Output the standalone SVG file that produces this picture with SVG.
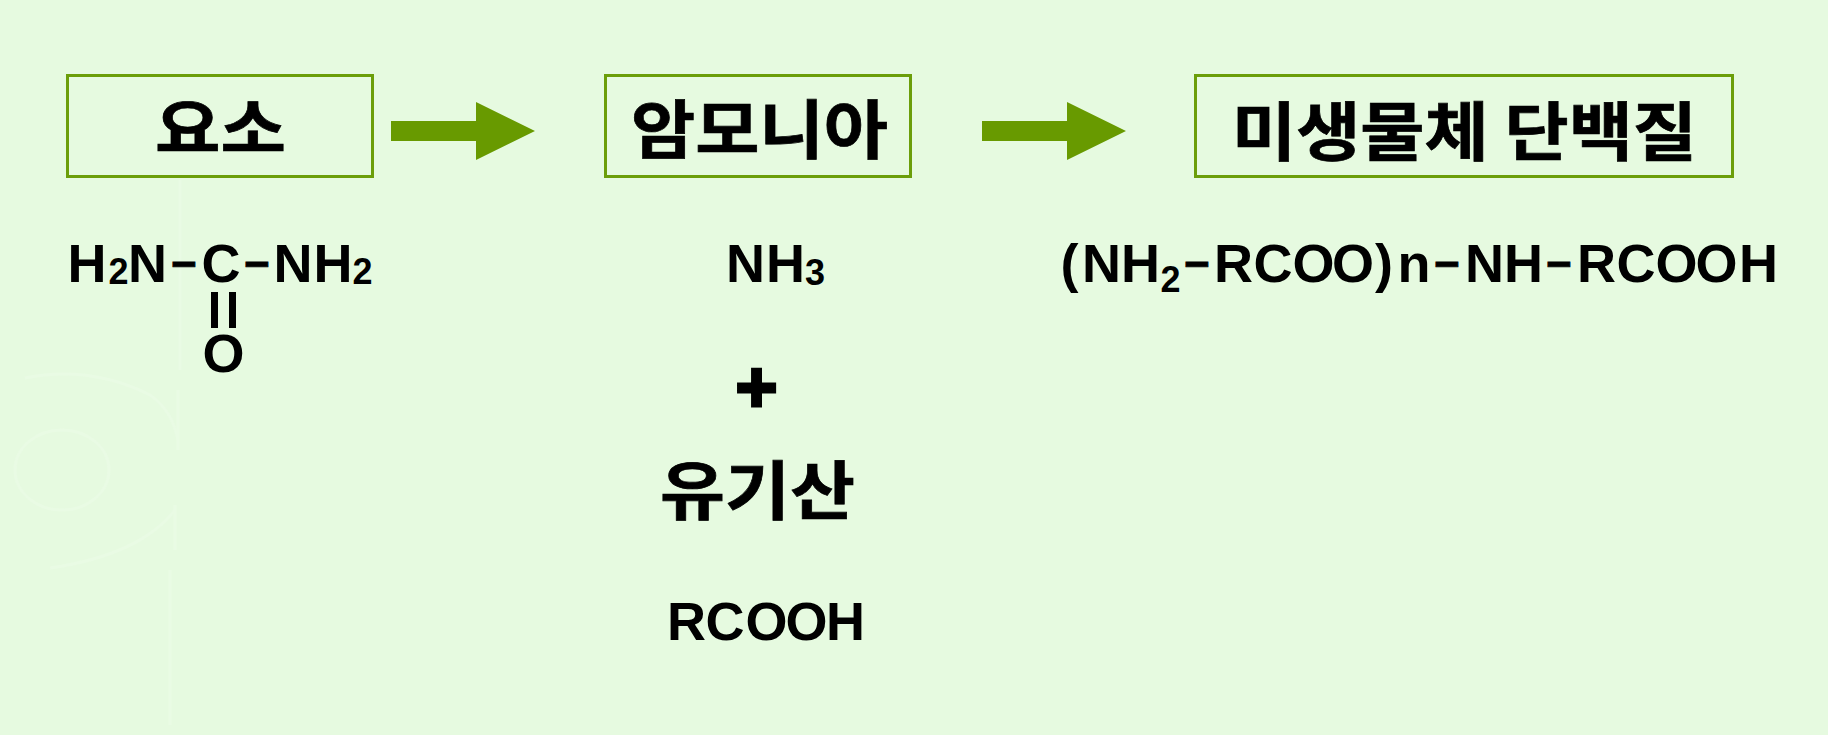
<svg xmlns="http://www.w3.org/2000/svg" width="1828" height="735" viewBox="0 0 1828 735">
<style>
.box{fill:none;stroke:#6b9e0a;stroke-width:3}
.arrow{fill:#689a00}
.ko{font-family:"Noto Sans CJK KR","Noto Sans",sans-serif;font-weight:700;font-size:64px;fill:#000;stroke:#000;stroke-width:.7}
.f{font-family:"Liberation Sans",Arial,sans-serif;font-weight:700;font-size:54px;fill:#000}
.s{font-size:36px}
.d{font-size:44px;stroke:#000;stroke-width:.8}
.wm{fill:none;stroke:#e9fbe4;stroke-width:3}
</style>
<rect width="1828" height="735" fill="#e6fae0"/>
<g id="watermark">
<ellipse cx="62" cy="470" rx="47" ry="40" class="wm"/>
<path d="M25 378Q90 365 150 395Q172 410 178 440" class="wm"/>
<path d="M175 510Q140 555 50 568" class="wm"/>
<path d="M178 390V450M175 505V550M170 570V725" class="wm"/>
<path d="M180 180V370" class="wm"/>
</g>
<g id="connectors">
<polygon class="arrow" points="391,121 476,121 476,102 535,131 476,160 476,141 391,141"/>
<polygon class="arrow" points="982,121 1067,121 1067,102 1126,131 1067,160 1067,141 982,141"/>
</g>
<g id="node-urea"><rect class="box" x="67.5" y="75.5" width="305" height="101"/><text class="ko" x="155" y="152" textLength="131" lengthAdjust="spacingAndGlyphs">요소</text></g>
<g id="node-ammonia"><rect class="box" x="605.5" y="75.5" width="305" height="101"/><text class="ko" x="631" y="153" textLength="257" lengthAdjust="spacingAndGlyphs">암모니아</text></g>
<g id="node-protein"><rect class="box" x="1195.5" y="75.5" width="537" height="101"/><text class="ko" x="1232" y="155" textLength="465" lengthAdjust="spacingAndGlyphs">미생물체 단백질</text></g>
<g id="urea-formula">
<text class="f" x="67.5" y="282">H</text><text class="f s" x="108.5" y="284">2</text><text class="f" x="128" y="282">N</text>
<text class="f d" x="171" y="279">−</text>
<text class="f" x="201.5" y="282">C</text>
<text class="f d" x="244" y="279">−</text>
<text class="f" x="273.5" y="282">N</text><text class="f" x="313.5" y="282">H</text><text class="f s" x="352.5" y="284">2</text>
<rect x="211" y="292" width="7" height="36"/><rect x="229" y="292" width="7" height="36"/>
<text class="f" x="202.5" y="372">O</text>
</g>
<g id="ammonia-formula"><text class="f" x="726" y="282">N</text><text class="f" x="766" y="282">H</text><text class="f s" x="805" y="285">3</text></g>
<g id="plus"><text class="f" x="756.5" y="412" text-anchor="middle" style="font-size:72px;stroke:#000;stroke-width:3">+</text></g>
<g id="organic-acid"><text class="ko" x="660" y="514" textLength="195" lengthAdjust="spacingAndGlyphs">유기산</text>
<text class="f" x="667" y="640">R</text><text class="f" x="705.5" y="640">C</text><text class="f" x="745.5" y="640">O</text><text class="f" x="785.5" y="640">O</text><text class="f" x="826" y="640">H</text></g>
<g id="protein-formula">
<text class="f" x="1060.5" y="282">(</text><text class="f" x="1082" y="282">N</text><text class="f" x="1121" y="282">H</text><text class="f s" x="1160.5" y="292">2</text>
<text class="f d" x="1184" y="279">−</text>
<text class="f" x="1214" y="282">R</text><text class="f" x="1253.5" y="282">C</text><text class="f" x="1292.5" y="282">O</text><text class="f" x="1332" y="282">O</text><text class="f" x="1375" y="282">)</text><text class="f" x="1397.5" y="282">n</text>
<text class="f d" x="1434" y="279">−</text>
<text class="f" x="1465" y="282">N</text><text class="f" x="1504" y="282">H</text>
<text class="f d" x="1546" y="279">−</text>
<text class="f" x="1577" y="282">R</text><text class="f" x="1616.5" y="282">C</text><text class="f" x="1655.5" y="282">O</text><text class="f" x="1695.5" y="282">O</text><text class="f" x="1739" y="282">H</text>
</g>
</svg>
